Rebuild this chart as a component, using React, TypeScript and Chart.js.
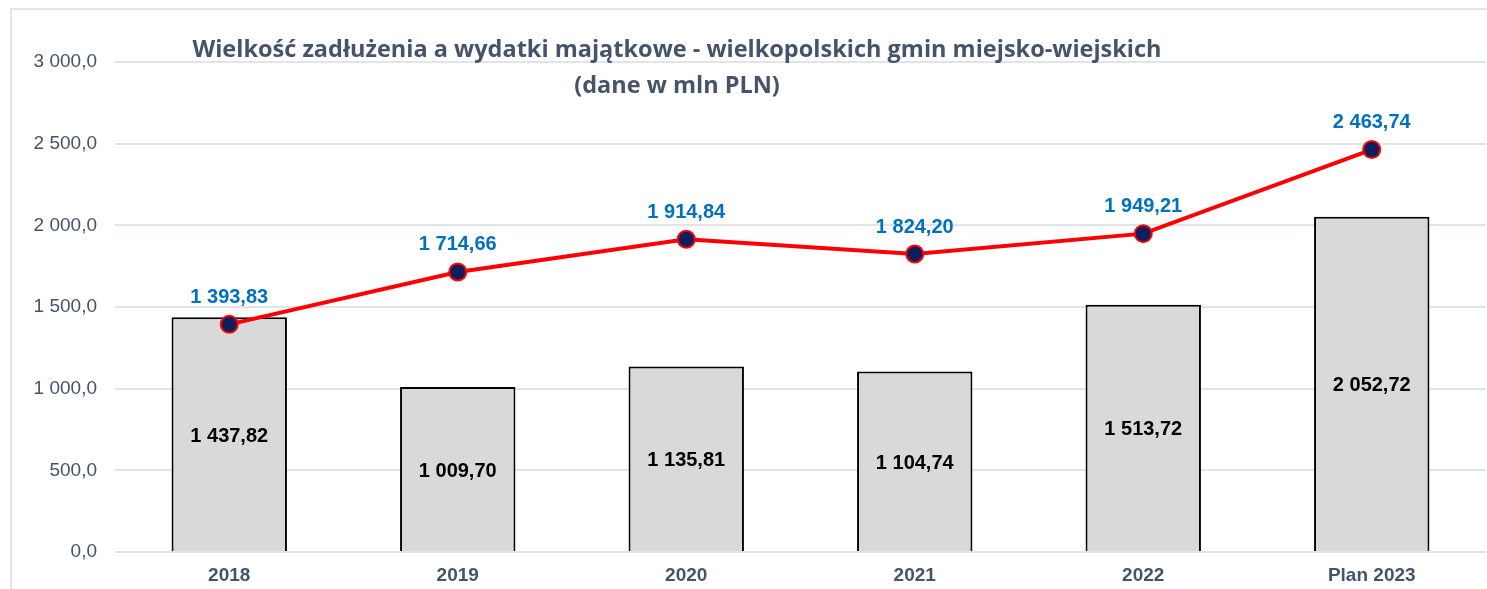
import React, { useEffect, useRef } from "react";
import { Chart, registerables } from "chart.js";

Chart.register(...registerables);

const categories = ["2018", "2019", "2020", "2021", "2022", "Plan 2023"];
const barValues = [1437.82, 1009.7, 1135.81, 1104.74, 1513.72, 2052.72];
const lineValues = [1393.83, 1714.66, 1914.84, 1824.2, 1949.21, 2463.74];
const titleLines = [
  "Wielkość zadłużenia a wydatki majątkowe - wielkopolskich gmin miejsko-wiejskich",
  "(dane w mln PLN)",
];

const fmt = (v: number, d: number) => {
  const s = v.toFixed(d);
  const [i, f] = s.split(".");
  const ii = i.replace(/\B(?=(\d{3})+(?!\d))/g, " ");
  return f !== undefined ? ii + "," + f : ii;
};

const labelsPlugin = {
  id: "customLabels",
  afterDatasetsDraw(chart: any) {
    const ctx = chart.ctx;
    ctx.save();
    ctx.textAlign = "center";
    ctx.textBaseline = "middle";
    const barMeta = chart.getDatasetMeta(0);
    ctx.font = "bold 20px 'Liberation Sans', Arial, sans-serif";
    ctx.fillStyle = "#000000";
    barMeta.data.forEach((el: any, i: number) => {
      const y = (el.y + el.base) / 2;
      ctx.fillText(fmt(barValues[i], 2), el.x, y + 2);
    });
    const lineMeta = chart.getDatasetMeta(1);
    ctx.fillStyle = "#0070C0";
    lineMeta.data.forEach((el: any, i: number) => {
      ctx.fillText(fmt(lineValues[i], 2), el.x, el.y - 27);
    });
    // title
    ctx.fillStyle = "#44546A";
    ctx.font = "bold 23.5px 'Open Sans', sans-serif";
    ctx.fillText(titleLines[0], 677, 50);
    ctx.fillText(titleLines[1], 677, 86);
    ctx.restore();
  },
};

export default function App() {
  const ref = useRef<HTMLCanvasElement>(null);
  useEffect(() => {
    document.body.style.margin = "0";
    const chart = new Chart(ref.current!, {
      type: "bar",
      data: {
        labels: categories,
        datasets: [
          {
            type: "bar",
            label: "Wydatki majątkowe",
            data: barValues,
            backgroundColor: "#D9D9D9",
            borderColor: "#000000",
            borderWidth: 2,
            barPercentage: 0.505,
            categoryPercentage: 1,
            order: 2,
          },
          {
            type: "line",
            label: "Zadłużenie",
            data: lineValues,
            borderColor: "#FF0000",
            borderWidth: 4,
            pointRadius: 8.5,
            pointBackgroundColor: "#0B1F5E",
            pointBorderColor: "#FF0000",
            pointBorderWidth: 2,
            tension: 0,
            order: 1,
          } as any,
        ],
      },
      options: {
        animation: false,
        responsive: false,
        maintainAspectRatio: false,
        layout: { autoPadding: false, padding: { left: 0, right: 1, top: 62, bottom: 0 } },
        plugins: {
          legend: { display: false },
          tooltip: { enabled: false },
          title: { display: false },
        },
        scales: {
          x: {
            grid: { display: false, drawTicks: false },
            border: { display: false },
            ticks: {
              color: "#44546A",
              padding: 12,
              font: { family: "'Liberation Sans', Arial, sans-serif", size: 19, weight: "bold" },
            },
            afterFit(scale: any) {
              scale.height = 37;
              scale.paddingLeft = 0;
              scale.paddingRight = 0;
            },
          },
          y: {
            min: 0,
            max: 3000,
            grid: { color: "#E1E4E9", lineWidth: 2, drawTicks: false },
            border: { display: false },
            ticks: {
              stepSize: 500,
              padding: 18,
              color: "#44546A",
              font: { family: "'Liberation Sans', Arial, sans-serif", size: 19 },
              callback: (v: any) => fmt(Number(v), 1),
            },
            afterFit(scale: any) {
              scale.width = 115;
            },
          },
        },
      },
      plugins: [labelsPlugin],
    });
    return () => chart.destroy();
  }, []);
  return (
    <div style={{ position: "relative", width: 1487, height: 589, background: "#fff" }}>
      <div
        style={{
          position: "absolute",
          left: 10,
          top: 8,
          right: 0,
          bottom: 0,
          borderTop: "2px solid #E1E4E9",
          borderLeft: "2px solid #E1E4E9",
        }}
      />
      <canvas ref={ref} width={1487} height={589} style={{ position: "absolute", left: 0, top: 0 }} />
    </div>
  );
}
